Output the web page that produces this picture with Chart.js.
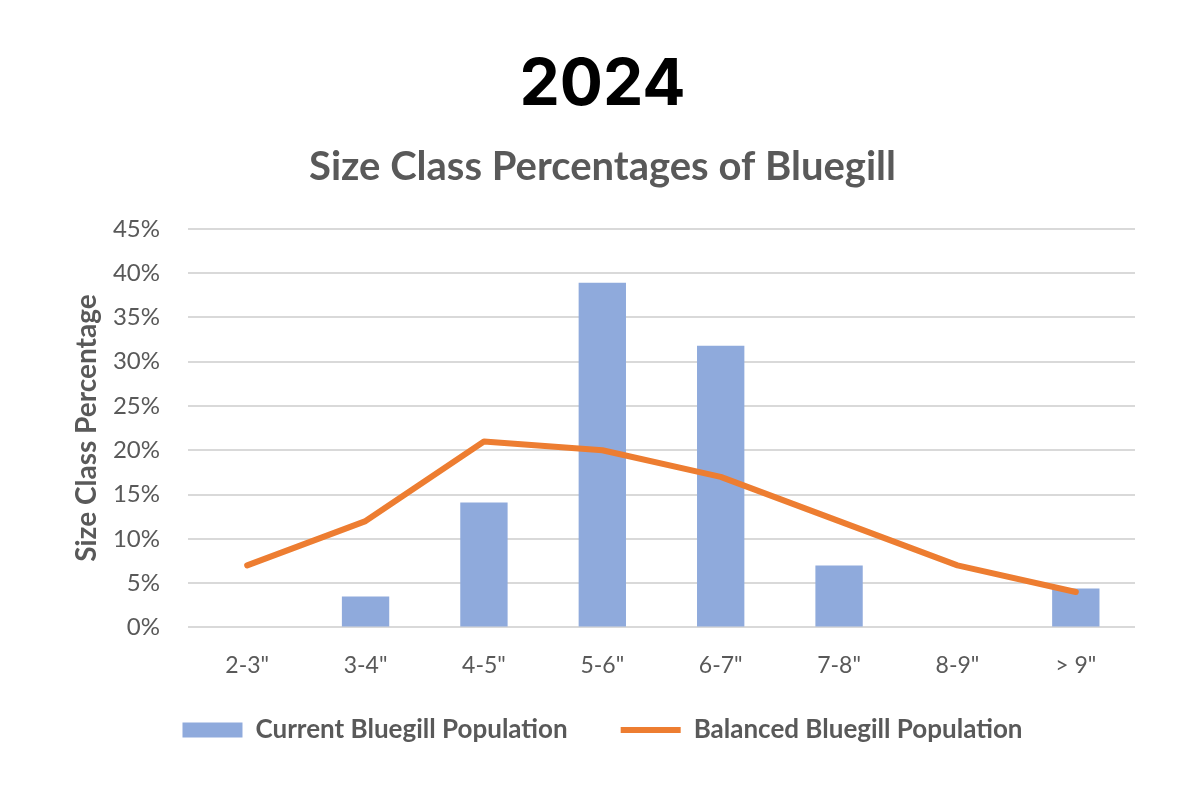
<!DOCTYPE html>
<html lang="en">

<head>
    <meta charset="UTF-8">
    <title>Size Class Percentages of Bluegill</title>
    <script src="https://cdn.jsdelivr.net/npm/chart.js"></script>
    <style>
        html, body { margin: 0; padding: 0; background: #fff; }
        .wrap { width: 1200px; height: 800px; position: relative; }
    </style>
</head>

<body>
    <div class="wrap">
        <canvas id="bluegillChart"></canvas>
    </div>

    <script>
        // Datos
        const sizeClasses = ['2-3"', '3-4"', '4-5"', '5-6"', '6-7"', '7-8"', '8-9"', '> 9"'];
        const currentPopulation = [null, 3.5, 14.1, 38.9, 31.8, 7.0, null, 4.4];
        const balancedPopulation = [7, 12, 21, 20, 17, 12, 7, 4];
        const yTicks = [0, 5, 10, 15, 20, 25, 30, 35, 40, 45];

        const gray = '#595959';
        const fontFamily = 'Lato, "Open Sans", sans-serif';

        const ctx = document.getElementById('bluegillChart').getContext('2d');
        window.myChart = new Chart(ctx, {
            type: 'bar',
            data: {
                labels: sizeClasses,
                datasets: [{
                    label: 'Current Bluegill Population',
                    data: currentPopulation,
                    backgroundColor: '#8FAADC',
                    borderWidth: 0,
                    barPercentage: 0.4,
                    categoryPercentage: 1,
                    pointStyle: 'rect',
                    order: 2
                }, {
                    type: 'line',
                    label: 'Balanced Bluegill Population',
                    data: balancedPopulation,
                    borderColor: '#ED7D31',
                    backgroundColor: '#ED7D31',
                    borderWidth: 6,
                    borderCapStyle: 'round',
                    borderJoinStyle: 'round',
                    pointRadius: 0,
                    pointHoverRadius: 0,
                    pointStyle: 'line',
                    tension: 0,
                    order: 1
                }]
            },
            options: {
                responsive: true,
                maintainAspectRatio: false,
                animation: false,
                layout: {
                    padding: { left: 70, right: 65, top: 0, bottom: 47 }
                },
                plugins: {
                    title: {
                        display: true,
                        text: '2024',
                        color: '#000',
                        font: { family: 'Inter, sans-serif', size: 64, weight: '700' },
                        padding: { top: 47, bottom: 0 }
                    },
                    subtitle: {
                        display: true,
                        text: 'Size Class Percentages of Bluegill',
                        color: gray,
                        font: { family: fontFamily, size: 40, weight: 'bold' },
                        padding: { top: 19, bottom: 38 }
                    },
                    legend: {
                        position: 'bottom',
                        reverse: true,
                        labels: {
                            usePointStyle: true,
                            pointStyleWidth: 60,
                            boxHeight: 15,
                            color: gray,
                            padding: 14,
                            font: { family: fontFamily, size: 26, weight: 'bold' },
                            // espacio extra después de la entrada de barras
                            generateLabels: function (chart) {
                                const items = Chart.defaults.plugins.legend.labels.generateLabels(chart);
                                items.forEach(function (item) {
                                    if (item.datasetIndex === 0) item.text += '\u2003\u2003';
                                });
                                return items;
                            }
                        }
                    },
                    tooltip: { enabled: false }
                },
                scales: {
                    x: {
                        grid: { display: false, drawTicks: false },
                        border: { display: false },
                        ticks: {
                            color: gray,
                            padding: 24,
                            font: { family: fontFamily, size: 23 }
                        }
                    },
                    y: {
                        min: 0,
                        max: 45,
                        afterFit: function (scale) { scale.width = 118; },
                        afterBuildTicks: function (scale) {
                            scale.ticks = yTicks.map(v => ({ value: v }));
                        },
                        border: { display: false },
                        grid: {
                            color: '#d9d9d9',
                            lineWidth: 2,
                            drawTicks: false
                        },
                        ticks: {
                            color: gray,
                            padding: 28,
                            font: { family: fontFamily, size: 24 },
                            callback: function (value) { return value + '%'; }
                        },
                        title: {
                            display: true,
                            text: 'Size Class Percentage',
                            color: gray,
                            padding: 0,
                            font: { family: fontFamily, size: 28, weight: 'bold' }
                        }
                    }
                }
            }
        });
    </script>
</body>

</html>
